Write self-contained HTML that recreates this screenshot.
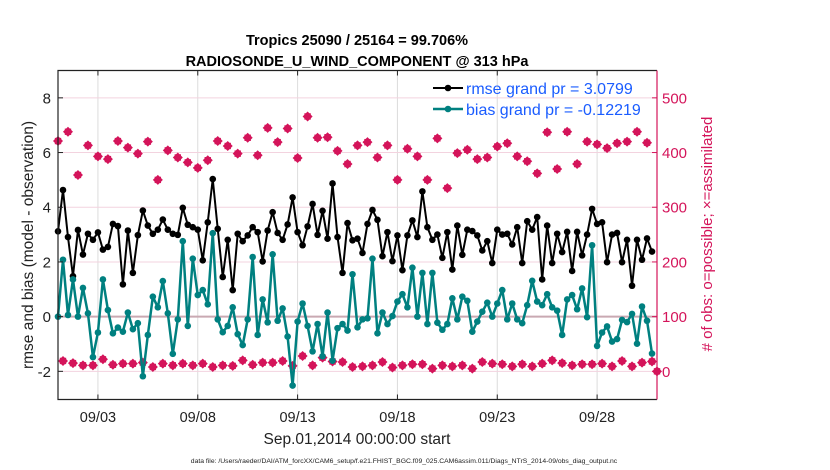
<!DOCTYPE html>
<html><head><meta charset="utf-8"><style>
html,body{margin:0;padding:0;background:#fff;}
svg{display:block;font-family:"Liberation Sans",sans-serif;}
</style></head><body>
<svg id="chart" width="830" height="470" viewBox="0 0 830 470" xmlns="http://www.w3.org/2000/svg">
<text x="357" y="45" text-anchor="middle" font-size="14.5" font-weight="bold">Tropics 25090 / 25164 = 99.706%</text>
<text x="357" y="66" text-anchor="middle" font-size="14.5" font-weight="bold">RADIOSONDE_U_WIND_COMPONENT @ 313 hPa</text>
<g id="grid"></g>
<g id="series"></g>
<g id="axes"></g>
<text x="357" y="444" text-anchor="middle" font-size="15.5" fill="#222">Sep.01,2014 00:00:00 start</text>
<text x="404" y="463" text-anchor="middle" font-size="6.8" fill="#222">data file: /Users/raeder/DAI/ATM_forcXX/CAM6_setup/f.e21.FHIST_BGC.f09_025.CAM6assim.011/Diags_NTrS_2014-09/obs_diag_output.nc</text>
<text transform="translate(33,245) rotate(-90)" text-anchor="middle" font-size="15.5" fill="#222">rmse and bias (model - observation)</text>
<text transform="translate(712,234) rotate(-90)" text-anchor="middle" font-size="15" fill="#d4145a"># of obs: o=possible; ×=assimilated</text>
<g>
<g>
<line x1="433" y1="88" x2="463" y2="88" stroke="#000" stroke-width="2"/><circle cx="448" cy="88" r="3.3" fill="#000"/>
<text x="466" y="94" font-size="16" fill="#1a5cff">rmse grand pr = 3.0799</text></g>
<g>
<line x1="433" y1="109" x2="463" y2="109" stroke="#008080" stroke-width="2.5"/><circle cx="448" cy="109" r="3.3" fill="#008080"/>
<text x="466" y="115" font-size="16" fill="#1a5cff">bias grand pr = -0.12219</text></g>
</g>
</svg>
<script>
const rmse=[3.12,4.63,2.91,1.48,3.17,2.27,3.03,2.81,3.08,2.45,2.55,3.39,3.31,1.18,3.15,1.6,2.98,3.88,3.33,3.03,3.18,3.55,3.18,3.03,2.99,3.98,3.36,3.27,3.18,
2.06,3.45,5.03,3.21,1.45,2.81,0.97,3.03,2.76,2.97,3.27,3.09,2.02,3.15,3.82,3.06,2.81,3.37,4.36,3.09,2.61,3.30,4.12,2.99,3.87,2.85,4.87,
2.91,1.6,3.42,2.79,2.85,2.33,3.39,3.9,3.54,2.21,3.09,2.03,2.97,1.70,2.97,3.52,2.91,4.58,3.27,2.81,3.0,2.15,3.09,1.72,3.33,2.26,3.18,3.13,2.97,
2.42,2.76,1.96,3.18,3.0,3.03,2.64,3.27,1.96,3.49,3.18,3.64,1.36,3.33,1.96,3.03,2.36,3.1,1.67,3.1,2.24,3.0,3.94,3.39,3.45,1.99,3.0,3.06,1.99,
2.81,1.13,2.81,2.08,2.86,2.38];
const bias=[0,2.08,0.06,1.36,0,1.05,0.12,-1.48,-0.58,1.36,0.24,-0.61,-0.4,-0.55,0.15,-0.46,-0.24,-2.18,-0.67,0.73,0.34,1.30,0.12,-1.36,-0.1,2.76,-0.34,2.12,0.79,
0.97,0.45,3.05,-0.1,-0.57,-0.34,0.34,-0.64,-1.04,-0.1,2.18,-0.67,0.63,-0.21,2.28,-0.15,0.3,-0.73,-2.52,-0.18,0.48,-0.34,-1.27,-0.27,-1.45,0.15,-1.61,
-0.42,-0.27,-0.51,1.55,-0.39,-0.1,-0.06,2.12,-0.61,0.15,-0.27,0.02,0.55,0.82,0.34,1.79,0,1.6,-0.27,1.6,-0.22,-0.48,-0.27,0.67,-0.1,0.73,0.58,-0.55,-0.18,
0.18,0.51,0,0.48,0.97,-0.1,0.48,-0.1,-0.24,0.42,1.31,0.55,0.42,0.82,0.34,0.22,-0.67,0.63,0.79,0.27,1.03,-0.02,2.61,-1.07,-0.58,-0.36,-0.91,-0.82,-0.12,
-0.2,0.1,-0.99,0.37,-0.15,-1.35];
const possible=[421,438,359,413,393,388,421,409,398,420,350,404,391,382,372,
386,421,412,398,427,395,445,419,444,390,466,427,428,
403,379,413,419,391,413,350,407,393,350,426,335,399,405,388,
391,411,417,393,384,362,437,370,438,379,420,415,408,417,420,438,418];
const assimilated=[19,15,11,11,22,12,14,14,16,8,14,11,14,11,
14,8,11,10,20,12,16,16,19,10,28,11,25,18,
17,8,9,11,17,7,11,13,13,5,11,9,11,5,
17,14,13,9,13,9,14,20,15,11,13,13,14,9,19,
9,16,18];
const endAssimilated=0;
const xTickDays=[2,7,12,17,22,27];
const xTickLabels=["09/03","09/08","09/13","09/18","09/23","09/28"];
const leftTicks=[-2,0,2,4,6,8];
const rightTicks=[0,100,200,300,400,500];

const NS="http://www.w3.org/2000/svg";
const L=58,R=657,T=70.5,B=399.5;
const xMin=0,xMax=30,yMin=-3.03,yMax=9.0;
function xs(d){return L+(d-xMin)/(xMax-xMin)*(R-L);}
function ys(v){return B-(v-yMin)/(yMax-yMin)*(B-T);}
function yr(c){return ys(c/50-2);}
function mk(tag,attrs,parent){const e=document.createElementNS(NS,tag);for(const k in attrs)e.setAttribute(k,attrs[k]);parent.appendChild(e);return e;}
const grid=document.getElementById('grid'),series=document.getElementById('series'),axes=document.getElementById('axes');

xTickDays.forEach((d,i)=>{
 const g=mk('line',{x1:xs(d),x2:xs(d),y1:T,y2:B,stroke:'#dcdcdc','stroke-width':1},grid);
 
 
 const t=mk('text',{x:xs(d),y:422,'text-anchor':'middle','font-size':14.5,fill:'#222'},axes);
 t.textContent=xTickLabels[i];
 
 
 mk('line',{x1:xs(d),x2:xs(d),y1:B,y2:B-5,stroke:'#222'},axes);
 mk('line',{x1:xs(d),x2:xs(d),y1:T,y2:T+5,stroke:'#222'},axes);
});
leftTicks.forEach(v=>{
 const g=mk('line',{x1:L,x2:R,y1:ys(v),y2:ys(v),stroke:'#f3d3df','stroke-width':1},grid);
 
 
 const t=mk('text',{x:L-7,y:ys(v)+5.5,'text-anchor':'end','font-size':15,fill:'#222'},axes);
 t.textContent=v;
 
 
 mk('line',{x1:L,x2:L+5,y1:ys(v),y2:ys(v),stroke:'#222'},axes);
});
rightTicks.forEach(c=>{
 const t=mk('text',{x:R+5,y:yr(c)+5.5,'font-size':15,fill:'#d4145a'},axes);
 t.textContent=c;
 
 
 mk('line',{x1:R-5,x2:R,y1:yr(c),y2:yr(c),stroke:'#d4145a'},axes);
});
const zl=mk('line',{x1:L,x2:R,y1:ys(0),y2:ys(0),stroke:'#c9a9b2','stroke-width':2},grid);


mk('path',{d:`M${R},${T}H${L}V${B}H${R}`,fill:'none',stroke:'#222','stroke-width':1.2},axes);
mk('line',{x1:R,x2:R,y1:T,y2:B,stroke:'#d4145a','stroke-width':1.2},axes);

function star(x,y,name){
 const g=mk('g',{},series);
 
 
 mk('path',{d:`M${x},${y-5}L${x+5},${y}L${x},${y+5}L${x-5},${y}Z`,fill:'#d4145a'},g);
 mk('rect',{x:x-3.2,y:y-3.2,width:6.4,height:6.4,fill:'#d4145a'},g);
}
possible.forEach((c,k)=>star(xs(k*0.5),yr(c),'possible-obs-marker'));
assimilated.forEach((c,k)=>star(xs(0.25+k*0.5),yr(c),'assimilated-obs-marker'));
star(xs(30),yr(endAssimilated),'assimilated-obs-marker');

function line(vals,color,w,name){
 const d=vals.map((v,i)=>(i?'L':'M')+xs(i*0.25).toFixed(2)+','+ys(v).toFixed(2)).join('');
 const p=mk('path',{d:d,fill:'none',stroke:color,'stroke-width':w,'stroke-linejoin':'round'},series);
 
 
 vals.forEach((v,i)=>{
  const c=mk('circle',{cx:xs(i*0.25),cy:ys(v),r:3.3,fill:color},series);
  
  
 });
}
line(rmse,'#000',2,'rmse');
line(bias,'#008080',2.5,'bias');
</script>
</body></html>
